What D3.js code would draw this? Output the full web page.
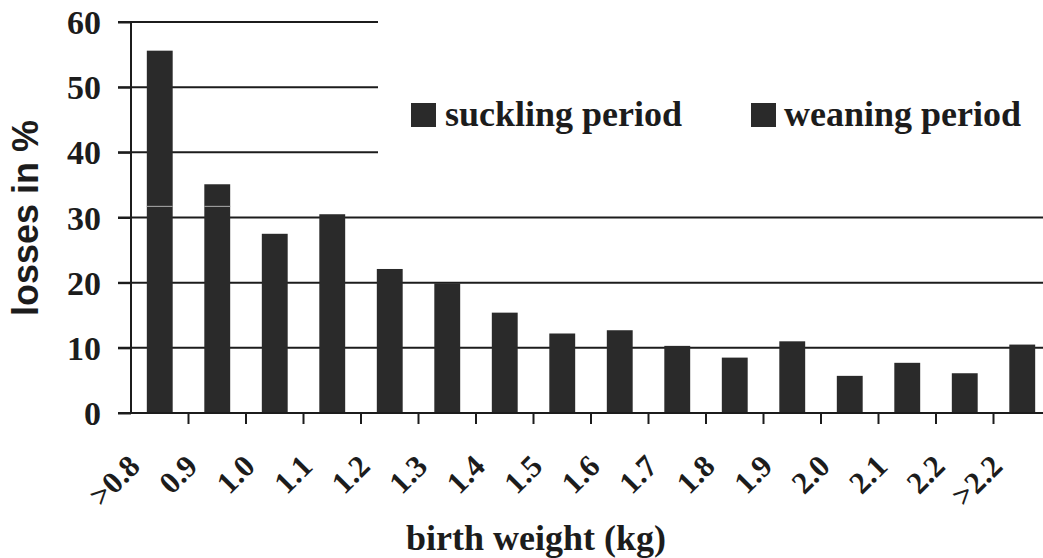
<!DOCTYPE html>
<html>
<head>
<meta charset="utf-8">
<script src="https://cdn.jsdelivr.net/npm/d3@7"></script>
<style>
  html, body { margin: 0; padding: 0; background: #fff; }
  svg { display: block; }
</style>
</head>
<body>
<svg id="chart" width="1043" height="558"></svg>
<script>
// Data
const categories = [">0.8", "0.9", "1.0", "1.1", "1.2", "1.3", "1.4", "1.5", "1.6", "1.7", "1.8", "1.9", "2.0", "2.1", "2.2", ">2.2"];
// suckling period losses (%) and weaning period losses (%) - stacked
const suckling = [31.7, 31.7, 27.5, 30.5, 22.1, 19.9, 15.4, 12.2, 12.7, 10.3, 8.5, 11.0, 5.7, 7.7, 6.1, 10.5];
const weaning  = [23.9, 3.4, 0, 0, 0, 0, 0, 0, 0, 0, 0, 0, 0, 0, 0, 0];
const yTicks = [0, 10, 20, 30, 40, 50, 60];
const seriesNames = ["suckling period", "weaning period"];

const svg = d3.select("#chart");
const serif = "'Liberation Serif', 'Times New Roman', serif";
const sans = "'Liberation Sans', Arial, sans-serif";
const ink = "#1c1c1c";
const barColor = "#2a2a2a";

const x = d3.scaleBand().domain(categories).range([131, 1051]).paddingInner(0.55).paddingOuter(0.275);
const y = d3.scaleLinear().domain([0, 60]).range([413, 22]);

// gridlines (upper ones stop at the legend area)
const legendLeft = 378;
svg.append("g").selectAll("line").data(yTicks.filter(d => d > 0)).join("line")
  .attr("x1", 118)
  .attr("x2", d => d >= 40 ? legendLeft : 1043)
  .attr("y1", d => y(d)).attr("y2", d => y(d))
  .attr("stroke", ink).attr("stroke-width", 2);

// bars
const rows = categories.map((c, i) => ({cat: c, s: suckling[i], w: weaning[i]}));
const g = svg.append("g");
g.selectAll("rect.s").data(rows).join("rect")
  .attr("class", "s")
  .attr("x", d => x(d.cat)).attr("width", x.bandwidth())
  .attr("y", d => y(d.s)).attr("height", d => y(0) - y(d.s))
  .attr("fill", barColor);
g.selectAll("rect.w").data(rows.filter(d => d.w > 0)).join("rect")
  .attr("class", "w")
  .attr("x", d => x(d.cat)).attr("width", x.bandwidth())
  .attr("y", d => y(d.s + d.w)).attr("height", d => y(d.s) - y(d.s + d.w))
  .attr("fill", barColor);
g.selectAll("line.sep").data(rows.filter(d => d.w > 0)).join("line")
  .attr("class", "sep")
  .attr("x1", d => x(d.cat)).attr("x2", d => x(d.cat) + x.bandwidth())
  .attr("y1", d => y(d.s)).attr("y2", d => y(d.s))
  .attr("stroke", "#9a9a9a").attr("stroke-width", 1.2);

// y axis
const yAxis = d3.axisLeft(y).tickValues(yTicks).tickSize(13).tickPadding(17);
const ya = svg.append("g").attr("transform", "translate(131,0)").call(yAxis);
ya.select(".domain").attr("stroke", ink).attr("stroke-width", 2).attr("d", `M0,${y(60)}V${y(0)}`);
ya.selectAll(".tick line").attr("stroke", ink).attr("stroke-width", 2);
ya.selectAll(".tick text").attr("font-family", serif).attr("font-weight", "bold")
  .attr("font-size", 34).attr("fill", ink).attr("dy", "0.34em");

// x axis
const boundaries = categories.map(c => x(c) - x.step() * x.paddingInner() / 2);
const xa = svg.append("g");
xa.append("line").attr("x1", 118).attr("x2", 1043).attr("y1", y(0)).attr("y2", y(0))
  .attr("stroke", ink).attr("stroke-width", 2);
xa.selectAll("line.tk").data(boundaries.slice(1)).join("line")
  .attr("class", "tk")
  .attr("x1", d => d).attr("x2", d => d)
  .attr("y1", y(0)).attr("y2", y(0) + 11)
  .attr("stroke", ink).attr("stroke-width", 2);
xa.selectAll("text").data(categories).join("text")
  .attr("transform", d => `translate(${x(d) + x.bandwidth() / 2 - 18},468) rotate(-45)`)
  .attr("text-anchor", "end")
  .attr("font-family", serif).attr("font-weight", "bold").attr("font-size", 31)
  .attr("fill", ink)
  .text(d => d);

// axis titles
svg.append("text")
  .attr("transform", "translate(38,218) rotate(-90)")
  .attr("text-anchor", "middle")
  .attr("font-family", sans).attr("font-weight", "bold").attr("font-size", 36)
  .attr("fill", ink).text("losses in %");
svg.append("text")
  .attr("x", 536).attr("y", 550)
  .attr("text-anchor", "middle")
  .attr("font-family", serif).attr("font-weight", "bold").attr("font-size", 36)
  .attr("fill", ink).text("birth weight (kg)");

// legend
const legendPos = [{sq: 411, tx: 445}, {sq: 751, tx: 784}];
const lg = svg.append("g");
seriesNames.forEach((name, i) => {
  lg.append("rect").attr("x", legendPos[i].sq).attr("y", 103).attr("width", 25).attr("height", 24)
    .attr("fill", barColor);
  lg.append("text").attr("x", legendPos[i].tx).attr("y", 126)
    .attr("font-family", serif).attr("font-weight", "bold").attr("font-size", 36)
    .attr("fill", ink).text(name);
});
</script>
</body>
</html>
